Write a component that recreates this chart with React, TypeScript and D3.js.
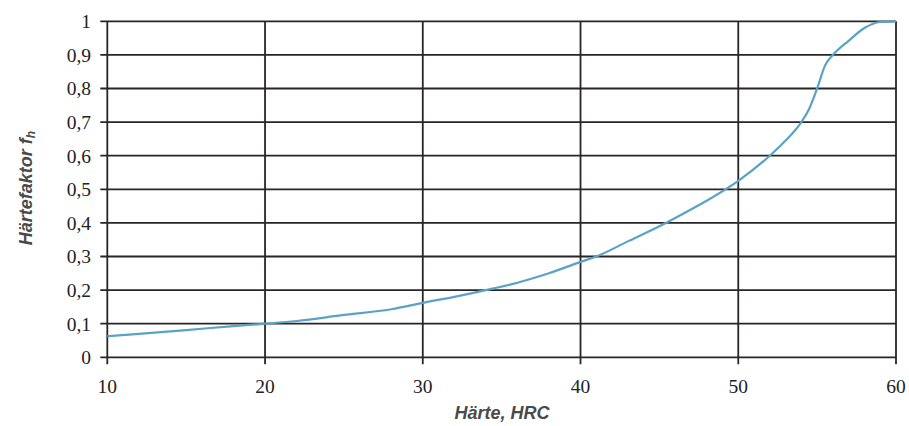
import React from "react";
import * as d3 from "d3";

const hardness = [10, 12, 15, 18, 20, 22, 25, 28, 30, 32, 34, 36, 38, 40, 41, 43, 45, 47, 48, 50, 52, 53, 54, 54.5, 55, 55.5, 56, 57, 58, 59, 60];
const factor = [0.063, 0.07, 0.081, 0.093, 0.1, 0.108, 0.126, 0.143, 0.162, 0.18, 0.2, 0.222, 0.25, 0.284, 0.3, 0.345, 0.39, 0.44, 0.466, 0.525, 0.6, 0.645, 0.7, 0.74, 0.8, 0.868, 0.9, 0.942, 0.98, 0.998, 1.0];
const xTicks = [10, 20, 30, 40, 50, 60];
const yTicks = [0, 0.1, 0.2, 0.3, 0.4, 0.5, 0.6, 0.7, 0.8, 0.9, 1];

const W = 909;
const H = 426;
const left = 107.3;
const right = 896;
const top = 21.3;
const bottom = 357.3;

export default function App() {
  const x = d3.scaleLinear().domain([10, 60]).range([left, right]);
  const y = d3.scaleLinear().domain([0, 1]).range([bottom, top]);
  const pts = hardness.map((h, i) => [h, factor[i]] as [number, number]);
  const line = d3
    .line<[number, number]>()
    .x((d) => x(d[0]))
    .y((d) => y(d[1]))
    .curve(d3.curveMonotoneX);
  const grid = "#2a2525";
  const fmt = (v: number) => (v === 0 || v === 1 ? String(v) : String(v.toFixed(1)).replace(".", ","));
  return (
    <svg width={W} height={H} style={{ position: "absolute", left: 0, top: 0, background: "#fff" }}>
      {yTicks.map((t) => (
        <line key={"h" + t} x1={left - 7} x2={right} y1={y(t)} y2={y(t)} stroke={grid} strokeWidth={1.8} />
      ))}
      {xTicks.map((t) => (
        <line key={"v" + t} x1={x(t)} x2={x(t)} y1={top} y2={bottom + 7} stroke={grid} strokeWidth={1.8} />
      ))}
      <path d={line(pts) || ""} fill="none" stroke="#5aa3c5" strokeWidth={2.2} />
      {yTicks.map((t) => (
        <text
          key={"yl" + t}
          x={91}
          y={y(t)}
          dy="0.35em"
          textAnchor="end"
          fontFamily="'Liberation Serif', serif"
          fontSize={19.5}
          fill="#222"
        >
          {fmt(t)}
        </text>
      ))}
      {xTicks.map((t) => (
        <text
          key={"xl" + t}
          x={x(t)}
          y={392.5}
          textAnchor="middle"
          fontFamily="'Liberation Serif', serif"
          fontSize={19.5}
          fill="#222"
        >
          {t}
        </text>
      ))}
      <text
        x={502}
        y={419}
        textAnchor="middle"
        fontFamily="'Liberation Sans', Arial, sans-serif"
        fontSize={18}
        fontWeight="bold"
        fontStyle="italic"
        fill="#4a4a4a"
      >
        Härte, HRC
      </text>
      <text
        transform="translate(32,188) rotate(-90)"
        textAnchor="middle"
        fontFamily="'Liberation Sans', Arial, sans-serif"
        fontSize={18}
        fontWeight="bold"
        fontStyle="italic"
        fill="#4a4a4a"
      >
        Härtefaktor f
        <tspan fontSize={12} dy={3}>h</tspan>
      </text>
    </svg>
  );
}
